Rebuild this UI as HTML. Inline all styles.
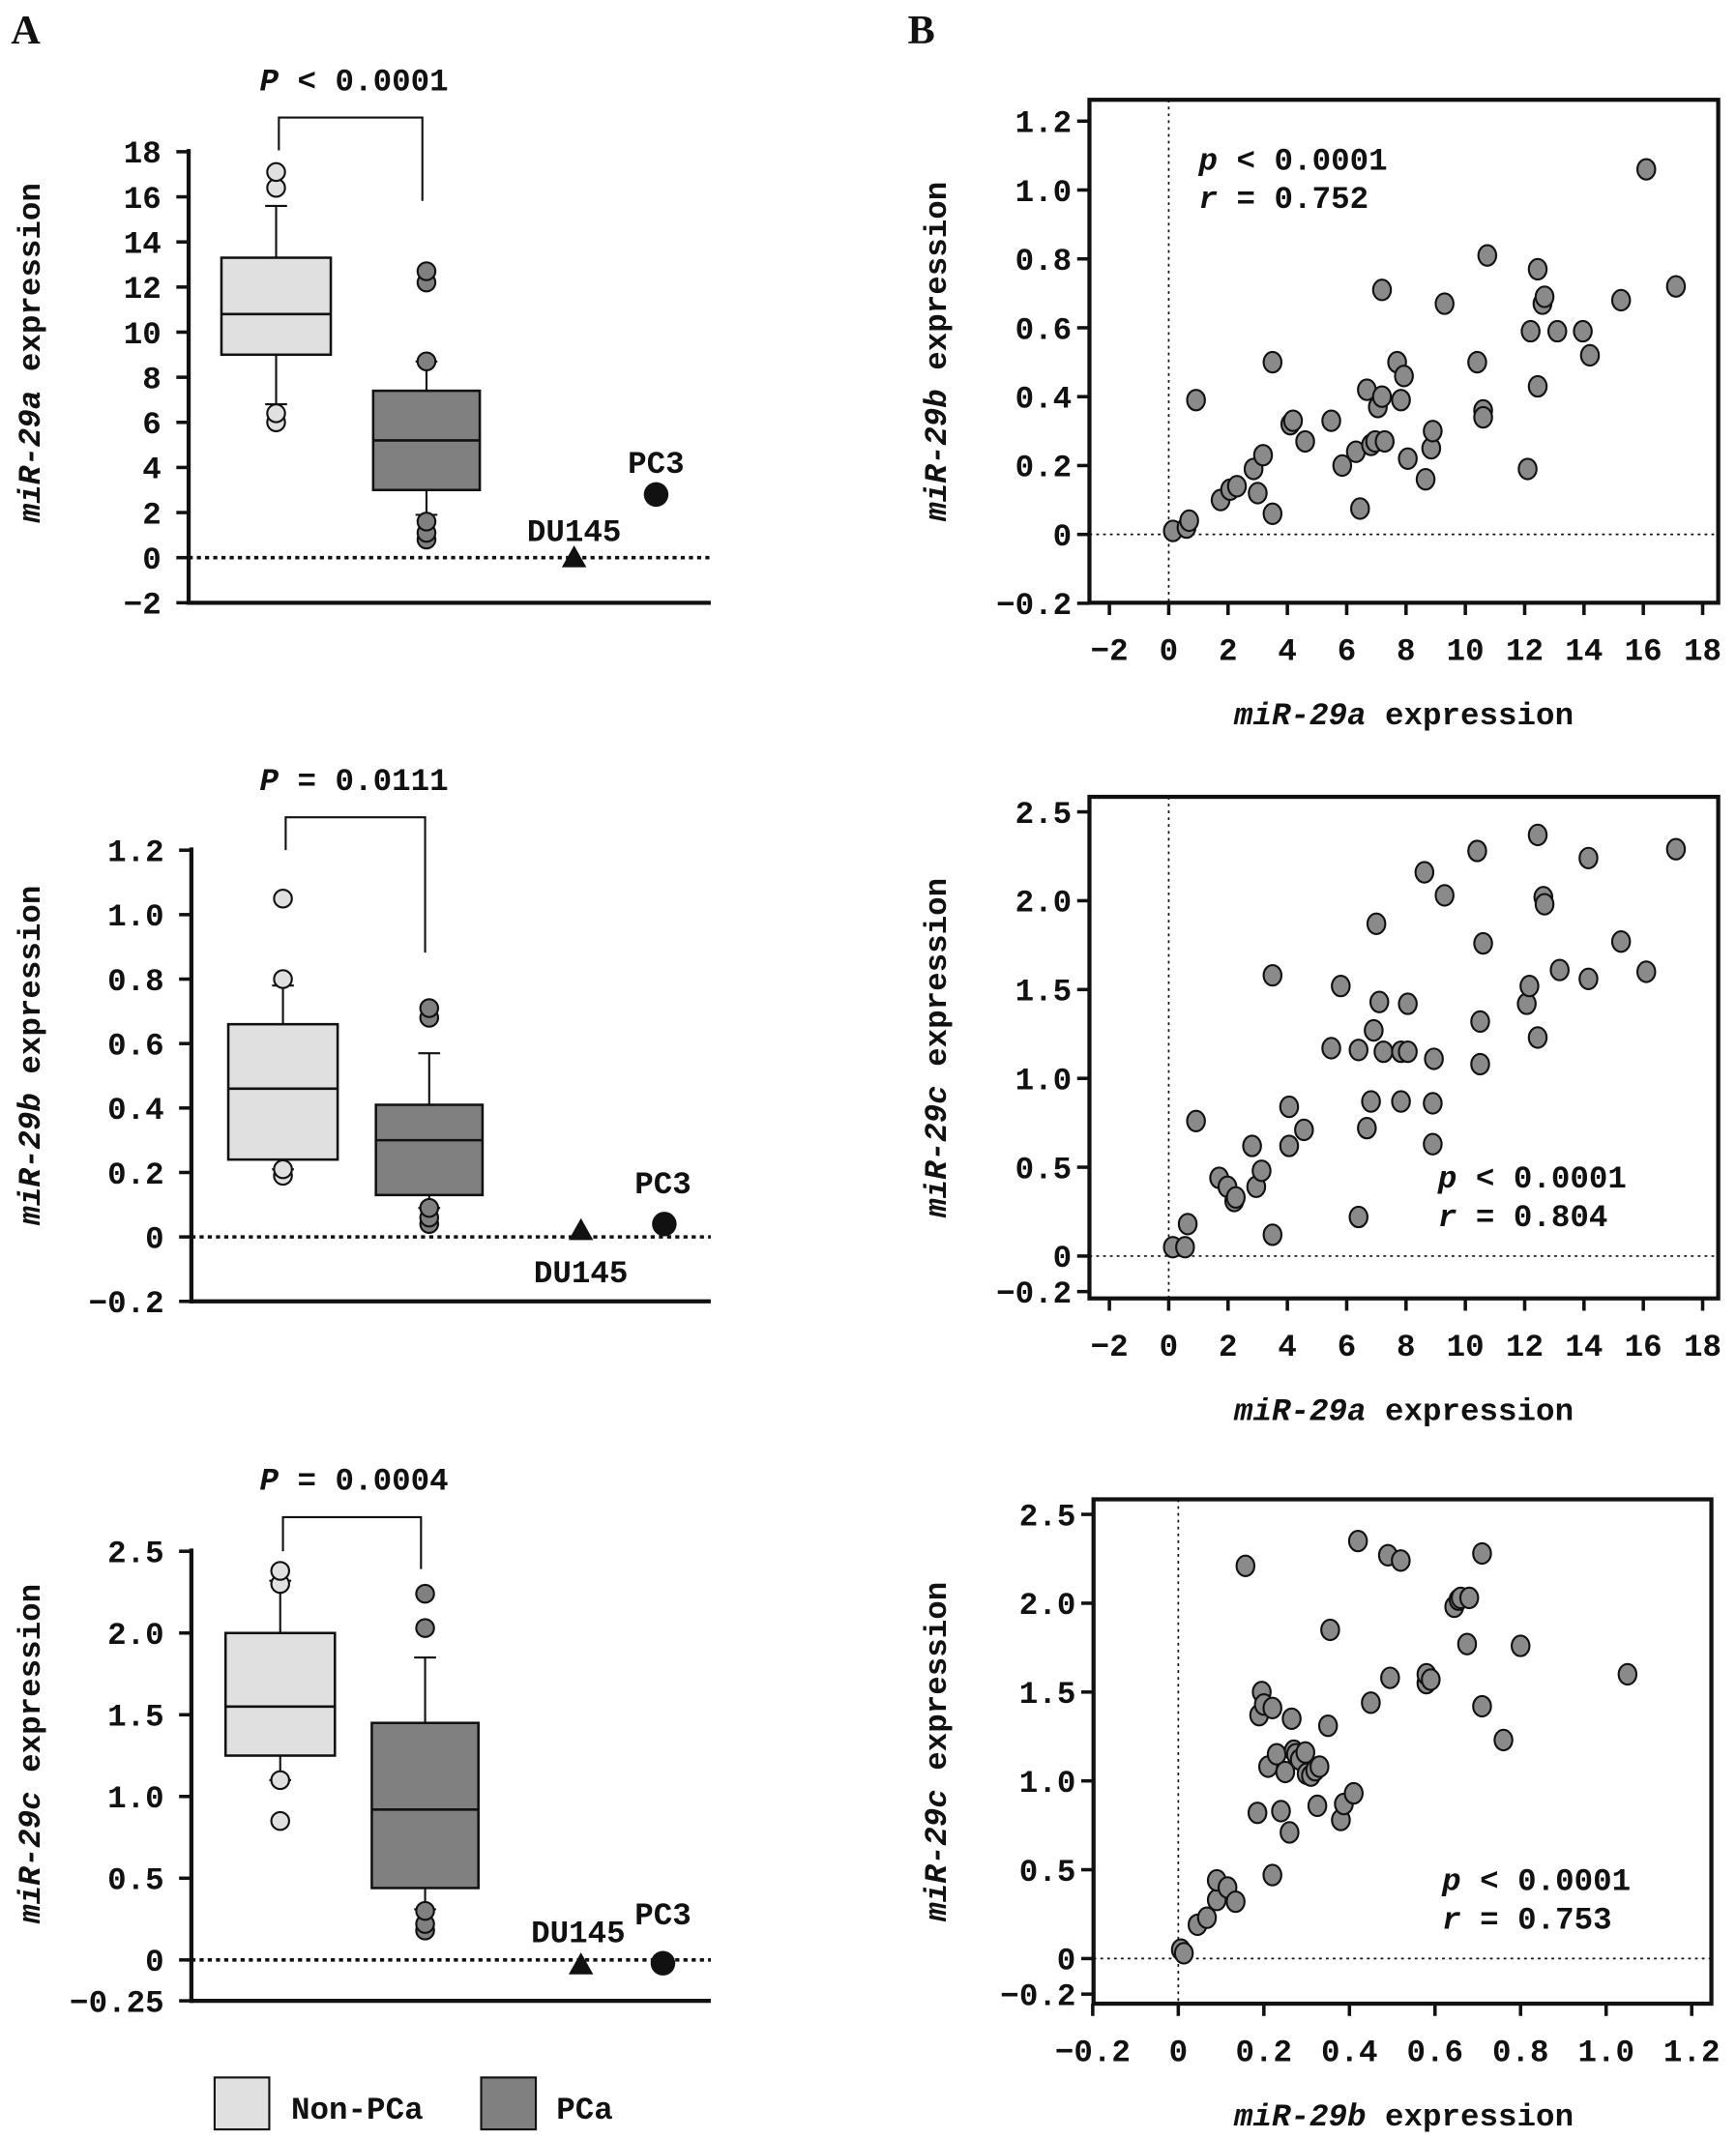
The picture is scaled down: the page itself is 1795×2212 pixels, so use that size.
<!DOCTYPE html>
<html><head><meta charset="utf-8"><style>
html,body{margin:0;padding:0;background:#fff}
svg{display:block}
text{font-family:"Liberation Mono",monospace;font-weight:bold;fill:#111}
</style></head><body>
<svg id="fig" width="1795" height="2212" viewBox="0 0 1270 1565" xmlns="http://www.w3.org/2000/svg">
<text x="8" y="32" style="font-family:'Liberation Serif',serif;font-size:30px">A</text>
<text x="664" y="32" style="font-family:'Liberation Serif',serif;font-size:30px">B</text>
<g id="root"></g>
</svg>
<script>
// ---------- Data ----------
const a1Ticks=[18,16,14,12,10,8,6,4,2,0,-2];
const a1Non=[6.8,9.0,10.8,13.3,15.6];
const a1NonOut=[6.0,6.4,16.4,17.1];
const a1Pca=[1.9,3.0,5.2,7.4,8.7];
const a1PcaOut=[0.8,1.1,1.6,8.7,12.2,12.7];
const a1Lines=[0,2.8];
const a2Ticks=[1.2,1.0,0.8,0.6,0.4,0.2,0,-0.2];
const a2Non=[0.21,0.24,0.46,0.66,0.78];
const a2NonOut=[0.19,0.21,0.80,1.05];
const a2Pca=[0.09,0.13,0.30,0.41,0.57];
const a2PcaOut=[0.04,0.06,0.09,0.68,0.71];
const a2Lines=[0.02,0.04];
const a3Ticks=[2.5,2.0,1.5,1.0,0.5,0,-0.25];
const a3Non=[1.1,1.25,1.55,2.0,2.32];
const a3NonOut=[0.85,1.1,2.3,2.38];
const a3Pca=[0.31,0.44,0.92,1.45,1.85];
const a3PcaOut=[0.18,0.22,0.3,2.03,2.24];
const a3Lines=[-0.03,-0.02];

const b1X=[0.14,0.6,0.69,0.92,1.75,2.07,2.3,2.86,3.0,3.18,3.5,3.5,4.1,4.19,4.6,5.48,5.85,6.31,6.45,6.68,6.82,6.96,7.05,7.19,7.28,7.19,7.7,7.83,7.93,8.06,8.66,8.85,8.9,9.3,10.4,10.6,10.6,10.74,12.1,12.2,12.44,12.44,12.6,12.67,13.1,13.96,14.2,15.25,16.1,17.1];
const b1Y=[0.01,0.02,0.04,0.39,0.10,0.13,0.14,0.19,0.12,0.23,0.06,0.50,0.32,0.33,0.27,0.33,0.20,0.24,0.075,0.42,0.26,0.27,0.37,0.40,0.27,0.71,0.50,0.39,0.46,0.22,0.16,0.25,0.30,0.67,0.50,0.36,0.34,0.81,0.19,0.59,0.43,0.77,0.67,0.69,0.59,0.59,0.52,0.68,1.06,0.72];
const b2X=[0.14,0.55,0.64,0.92,1.7,1.98,2.21,2.26,2.81,2.95,3.13,3.5,3.5,4.06,4.06,4.56,5.48,5.8,6.4,6.4,6.68,6.82,6.91,7.1,7.24,7.0,7.83,7.83,8.06,8.06,8.62,8.9,8.94,8.9,9.3,10.4,10.6,10.5,10.5,12.07,12.16,12.44,12.44,12.63,12.67,13.18,14.15,14.15,15.25,16.1,17.1];
const b2Y=[0.05,0.05,0.18,0.76,0.44,0.39,0.31,0.33,0.62,0.39,0.48,0.12,1.58,0.62,0.84,0.71,1.17,1.52,0.22,1.16,0.72,0.87,1.27,1.43,1.15,1.87,1.15,0.87,1.42,1.15,2.16,0.86,1.11,0.63,2.03,2.28,1.76,1.08,1.32,1.42,1.52,1.23,2.37,2.02,1.98,1.61,2.24,1.56,1.77,1.60,2.29];
const b3X=[0.006,0.013,0.045,0.067,0.09,0.09,0.115,0.134,0.157,0.185,0.189,0.195,0.2,0.21,0.22,0.22,0.23,0.24,0.25,0.26,0.265,0.27,0.275,0.284,0.297,0.30,0.31,0.32,0.325,0.33,0.35,0.355,0.38,0.387,0.41,0.42,0.45,0.49,0.495,0.52,0.58,0.58,0.59,0.645,0.655,0.66,0.675,0.68,0.71,0.71,0.76,0.80,1.05];
const b3Y=[0.05,0.03,0.19,0.23,0.33,0.44,0.40,0.32,2.21,0.82,1.37,1.50,1.43,1.08,1.41,0.47,1.15,0.83,1.05,0.71,1.35,1.17,1.15,1.12,1.16,1.04,1.03,1.06,0.86,1.08,1.31,1.85,0.78,0.87,0.93,2.35,1.44,2.27,1.58,2.24,1.55,1.60,1.57,1.98,2.02,2.03,1.77,2.03,1.42,2.28,1.23,1.76,1.60];
const bAX=[-2,0,2,4,6,8,10,12,14,16,18];
const b1Ticks=[1.2,1.0,0.8,0.6,0.4,0.2,0,-0.2];
const b2Ticks=[2.5,2.0,1.5,1.0,0.5,0,-0.2];
const b3XTicks=[-0.2,0,0.2,0.4,0.6,0.8,1.0,1.2];

// ---------- helpers ----------
const FS=23;
const NS='http://www.w3.org/2000/svg';
const root=document.getElementById('root');
function mk(tag,attrs,parent){const e=document.createElementNS(NS,tag);for(const k in attrs)e.setAttribute(k,attrs[k]);(parent||root).appendChild(e);return e;}
function txt(x,y,s,size,anchor,parent){const t=mk('text',{x:x,y:y,'font-size':size||FS,'text-anchor':anchor||'start'},parent);t.textContent=s;return t;}
function fmt1(v){return v===0?'0':v.toFixed(1).replace('-','\u2212');}

function ylabel(x,y,mir,parent){
  const t=mk('text',{x:0,y:0,'font-size':FS,'text-anchor':'middle',transform:`translate(${x},${y}) rotate(-90)`},parent);
  const a=mk('tspan',{'font-style':'italic'},t);a.textContent=mir;
  const b=mk('tspan',{},t);b.textContent=' expression';
  return t;
}

function panelA(o){
  const g=mk('g',{});
  
  
  const Y=v=>o.y0-v*o.k;
  const yTop=Y(o.ticks[0]), yBot=Y(o.ticks[o.ticks.length-1]);
  mk('line',{x1:o.ax,y1:yTop-2,x2:o.ax,y2:yBot+1.5,stroke:'#111','stroke-width':3},g);
  mk('line',{x1:o.ax-1.5,y1:yBot,x2:520,y2:yBot,stroke:'#111','stroke-width':3},g);
  o.ticks.forEach((v,i)=>{
    const tk=mk('line',{x1:o.ax-9,y1:Y(v),x2:o.ax,y2:Y(v),stroke:'#111','stroke-width':2.5},g);
    
    
    const t=txt(o.ax-20,Y(v)+8,o.labels[i],FS,'end',g);
    
    
  });
  const zl=mk('line',{x1:o.ax,y1:Y(0),x2:520,y2:Y(0),stroke:'#111','stroke-width':2.5,'stroke-dasharray':'3,3'},g);
  
  
  function box(cx,w,st,out,fill,name){
    const bg=mk('g',{},g);
    
    
    mk('line',{x1:cx,y1:Y(st[0]),x2:cx,y2:Y(st[4]),stroke:'#111','stroke-width':1.5},bg);
    mk('line',{x1:cx-8,y1:Y(st[0]),x2:cx+8,y2:Y(st[0]),stroke:'#111','stroke-width':1.5},bg);
    mk('line',{x1:cx-8,y1:Y(st[4]),x2:cx+8,y2:Y(st[4]),stroke:'#111','stroke-width':1.5},bg);
    mk('rect',{x:cx-w/2,y:Y(st[3]),width:w,height:Y(st[1])-Y(st[3]),fill:fill,stroke:'#111','stroke-width':1.8},bg);
    mk('line',{x1:cx-w/2,y1:Y(st[2]),x2:cx+w/2,y2:Y(st[2]),stroke:'#111','stroke-width':1.8},bg);
    out.forEach(v=>{
      const c=mk('circle',{cx:cx,cy:Y(v),r:6.5,fill:fill,stroke:'#111','stroke-width':1.5},bg);
      
      
    });
  }
  box(o.c1,80,o.non,o.nonOut,'#e0e0e0','box-non-pca');
  box(o.c2,78,o.pca,o.pcaOut,'#808080','box-pca');
  const yd=Y(o.lines[0]);
  const tri=mk('polygon',{points:`${o.dx-9},${yd+7} ${o.dx+9},${yd+7} ${o.dx},${yd-9}`,fill:'#111'},g);
  
  
  const pc=mk('circle',{cx:o.px,cy:Y(o.lines[1]),r:9,fill:'#111'},g);
  
  
  const dl=txt(o.dlx,o.dly,'DU145',FS,'middle',g);
  
  
  const pl=txt(o.plx,o.ply,'PC3',FS,'middle',g);
  
  
  const br=mk('polyline',{points:`${o.c1+2},${o.b1} ${o.c1+2},${o.bTop} ${o.c2-3},${o.bTop} ${o.c2-3},${o.b2}`,fill:'none',stroke:'#111','stroke-width':1.5},g);
  
  
  const pt=mk('text',{x:259,y:o.bTop-20,'font-size':FS,'text-anchor':'middle'},g);
  
  
  const i1=mk('tspan',{'font-style':'italic'},pt);i1.textContent='P';
  const i2=mk('tspan',{},pt);i2.textContent=o.p;
  const yl=ylabel(29,o.ylY,o.mir,g);
  
  
}

panelA({name:'panel-a1',ax:138,y0:408,k:16.5,ticks:a1Ticks,labels:a1Ticks.map(v=>String(v).replace('-','\u2212')),
  non:a1Non,nonOut:a1NonOut,pca:a1Pca,pcaOut:a1PcaOut,lines:a1Lines,c1:202,c2:312,dx:420,px:480,
  dlx:420,dly:396,plx:480,ply:346,bTop:86,b1:110,b2:147,p:' < 0.0001',mir:'miR-29a',ylY:258});
panelA({name:'panel-a2',ax:140,y0:905,k:235.8,ticks:a2Ticks,labels:a2Ticks.map(fmt1),
  non:a2Non,nonOut:a2NonOut,pca:a2Pca,pcaOut:a2PcaOut,lines:a2Lines,c1:207,c2:314,dx:425,px:486,
  dlx:425,dly:938,plx:485,ply:873,bTop:598,b1:622,b2:697,p:' = 0.0111',mir:'miR-29b',ylY:772});
panelA({name:'panel-a3',ax:140,y0:1434,k:119.6,ticks:a3Ticks,labels:a3Ticks.map(v=>v===-0.25?'\u22120.25':fmt1(v)),
  non:a3Non,nonOut:a3NonOut,pca:a3Pca,pcaOut:a3PcaOut,lines:a3Lines,c1:205,c2:311,dx:425,px:485,
  dlx:423,dly:1421,plx:485,ply:1408,bTop:1110,b1:1135,b2:1148,p:' = 0.0004',mir:'miR-29c',ylY:1283});

// legend
(function(){
  const g=mk('g',{});
  
  
  const r1=mk('rect',{x:157,y:1520,width:40,height:38,fill:'#e0e0e0',stroke:'#111','stroke-width':1.5},g);
  
  
  const t1=txt(213,1550,'Non-PCa',FS,'start',g);
  
  
  const r2=mk('rect',{x:352,y:1520,width:40,height:38,fill:'#808080',stroke:'#111','stroke-width':1.5},g);
  
  
  const t2=txt(407,1550,'PCa',FS,'start',g);
  
  
})();

function panelB(o){
  const g=mk('g',{});
  
  
  const X=v=>o.x0+v*o.kx, Y=v=>o.y0-v*o.ky;
  mk('line',{x1:X(0),y1:o.top,x2:X(0),y2:o.bot,stroke:'#111','stroke-width':1.2,'stroke-dasharray':'2,3'},g);
  mk('line',{x1:o.left,y1:Y(0),x2:o.right,y2:Y(0),stroke:'#111','stroke-width':1.2,'stroke-dasharray':'2,3'},g);
  o.xs.forEach((v,i)=>{
    const e=mk('ellipse',{cx:X(v),cy:Y(o.ys[i]),rx:6.5,ry:7.5,fill:'#8a8a8a',stroke:'#111','stroke-width':1.5},g);
    
    
  });
  mk('rect',{x:o.left,y:o.top,width:o.right-o.left,height:o.bot-o.top,fill:'none',stroke:'#111','stroke-width':3},g);
  o.yt.forEach(v=>{
    mk('line',{x1:o.left-9,y1:Y(v),x2:o.left,y2:Y(v),stroke:'#111','stroke-width':2.5},g);
    const t=txt(o.left-13,Y(v)+8,fmt1(v),FS,'end',g);
    
    
  });
  o.xt.forEach(v=>{
    mk('line',{x1:X(v),y1:o.bot,x2:X(v),y2:o.bot+9,stroke:'#111','stroke-width':2.5},g);
    const t=txt(X(v),o.bot+42,o.xf(v),FS,'middle',g);
    
    
  });
  const xl=mk('text',{x:1027,y:o.bot+89,'font-size':FS,'text-anchor':'middle'},g);
  
  
  const a=mk('tspan',{'font-style':'italic'},xl);a.textContent=o.xmir;
  const b=mk('tspan',{},xl);b.textContent=' expression';
  const yl=ylabel(692,(o.top+o.bot)/2,o.ymir,g);
  
  
  const s=mk('text',{x:o.sx,y:o.sy,'font-size':FS},g);
  
  
  const p1=mk('tspan',{'font-style':'italic'},s);p1.textContent='p';
  const p2=mk('tspan',{},s);p2.textContent=' < 0.0001';
  const s2=mk('text',{x:o.sx,y:o.sy+28,'font-size':FS},g);
  
  
  const r1=mk('tspan',{'font-style':'italic'},s2);r1.textContent='r';
  const r2=mk('tspan',{},s2);r2.textContent=' = '+o.r;
}
const intF=v=>String(v).replace('-','\u2212');
panelB({name:'panel-b1',xs:b1X,ys:b1Y,x0:855,kx:21.7,y0:391,ky:252,left:797,right:1257,top:73,bot:441,
  yt:b1Ticks,xt:bAX,xf:intF,xmir:'miR-29a',ymir:'miR-29b',sx:877,sy:124,r:'0.752'});
panelB({name:'panel-b2',xs:b2X,ys:b2Y,x0:855,kx:21.7,y0:919,ky:130,left:797,right:1257,top:583,bot:950,
  yt:b2Ticks,xt:bAX,xf:intF,xmir:'miR-29a',ymir:'miR-29c',sx:1052,sy:869,r:'0.804'});
panelB({name:'panel-b3',xs:b3X,ys:b3Y,x0:862,kx:313,y0:1433,ky:130,left:800,right:1252,top:1097,bot:1466,
  yt:b2Ticks,xt:b3XTicks,xf:fmt1,xmir:'miR-29b',ymir:'miR-29c',sx:1055,sy:1383,r:'0.753'});
</script>
</body></html>
